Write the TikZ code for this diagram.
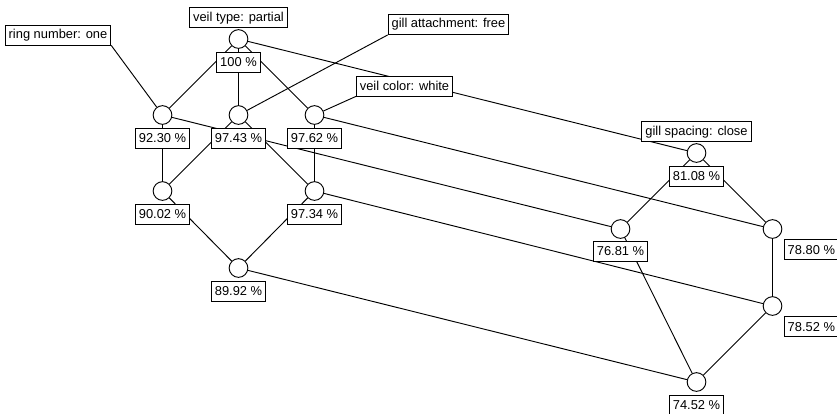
\documentclass[tikz,border=0pt]{standalone}
\usepackage{fontspec}
\setmainfont{Liberation Sans}
\usetikzlibrary{positioning}

\begin{document}
\begin{tikzpicture}[x=0.03cm, y=-0.03cm, font=\fontsize{11}{13}\selectfont, line width=0.8pt,
 obj/.style={circle,draw,fill=white,minimum size=0.56cm,inner sep=0pt},
 pct/.style={draw,fill=white,line width=0.7pt,inner xsep=3pt,inner ysep=0pt,
 minimum height=0.6cm},
 attr/.style={pct}]
 \useasboundingbox (0,0) rectangle (837,413);
 % concepts, left part
 \node[obj] (t) at (238.5,39) {};
 \node[obj] (a1) at (162.5,115) {};
 \node[obj] (a2) at (238.5,115) {};
 \node[obj] (a3) at (314.5,115) {};
 \node[obj] (b1) at (162.5,191) {};
 \node[obj] (b2) at (314.5,191) {};
 \node[obj] (c) at (238.5,268) {};
 % concepts, right part
 \node[obj] (d) at (696.5,153) {};
 \node[obj] (e1) at (620.5,229) {};
 \node[obj] (e2) at (772.5,229) {};
 \node[obj] (f) at (772.5,306) {};
 \node[obj] (g) at (696.5,382) {};
 % edges
 \draw (t) -- (a1) (t) -- (a2) (t) -- (a3);
 \draw (a1) -- (b1) (a2) -- (b1) (a2) -- (b2) (a3) -- (b2);
 \draw (b1) -- (c) (b2) -- (c);
 \draw (d) -- (e1) (d) -- (e2) (e2) -- (f) (f) -- (g) (e1) -- (g);
 \draw (t) -- (d) (a1) -- (e1) (a3) -- (e2) (b2) -- (f) (c) -- (g);
 % extents
 \node[pct,below=0.09cm of t] {100 \%};
 \node[pct,below=0.09cm of a1] {92.30 \%};
 \node[pct,below=0.09cm of a2] {97.43 \%};
 \node[pct,below=0.09cm of a3] {97.62 \%};
 \node[pct,below=0.09cm of b1] {90.02 \%};
 \node[pct,below=0.09cm of b2] {97.34 \%};
 \node[pct,below=0.09cm of c] {89.92 \%};
 \node[pct,below=0.09cm of d] {81.08 \%};
 \node[pct,below=0.06cm of e1] {76.81 \%};
 \node[pct,below right=0.1cm and 0.13cm of e2] {78.80 \%};
 \node[pct,below right=0.1cm and 0.13cm of f] {78.52 \%};
 \node[pct,below=0.09cm of g] {74.52 \%};
 % attributes
 \node[attr,above=0.03cm of t] (vtype) {veil type: partial};
 \node[attr,above=0.03cm of d] (gspace) {gill spacing: close};
 \node[attr] (ring) at (58,35) {ring number: one};
 \node[attr] (gattach) at (448.5,24.5) {gill attachment: free};
 \node[attr] (vcolor) at (404.5,86) {veil color: white};
 \draw (ring.south east) -- (a1);
 \draw (gattach.south west) -- (a2);
 \draw (vcolor.south west) -- (a3);
\end{tikzpicture}
\end{document}
